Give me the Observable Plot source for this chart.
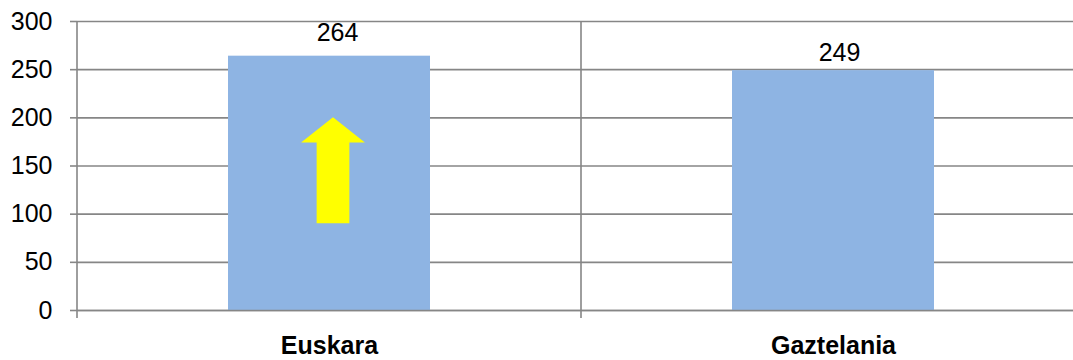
<!DOCTYPE html>
<html>
<head>
<meta charset="utf-8">
<script src="https://cdn.jsdelivr.net/npm/d3@7"></script>
<script src="https://cdn.jsdelivr.net/npm/@observablehq/plot@0.6"></script>
<style>
  html, body { margin: 0; padding: 0; background: #fff; }
  #chart svg { display: block; overflow: hidden; }
  #chart g[aria-label="x-axis tick label"] text { font-weight: bold; }
</style>
</head>
<body>
<div id="chart"></div>
<script>
// ---- data ----
const categories = ["Euskara", "Gaztelania"];
const values = [264, 249];
const yTicks = [0, 50, 100, 150, 200, 250, 300];
// decorative upward arrow in the first bar (data units)
const arrowCategory = "Euskara";
const arrowBottom = 90;
const arrowHeadBase = 174;
const arrowTip = 200;

const data = categories.map((c, i) => ({category: c, value: values[i]}));

const font = "'Liberation Sans', Arial, sans-serif";
const gridColor = "#868686";
const gridWidth = 1.6;

// custom mark: vertical category separators (incl. y-axis line)
function separators(index, scales, values, dims) {
  const x = scales.x, y = scales.y;
  const step = x.step(), bw = x.bandwidth();
  const g = d3.create("svg:g").attr("aria-label", "category separators");
  const edges = [x(categories[0]) - (step - bw) / 2];
  categories.forEach(c => edges.push(x(c) + bw + (step - bw) / 2));
  for (const e of edges) {
    g.append("line")
      .attr("x1", e).attr("x2", e)
      .attr("y1", y(300)).attr("y2", y(0) + 8)
      .attr("stroke", gridColor).attr("stroke-width", gridWidth);
  }
  return g.node();
}

// custom mark: block arrow
function blockArrow(index, scales) {
  const x = scales.x, y = scales.y;
  const bw = x.bandwidth();
  const cx = x(arrowCategory) + bw / 2 + 4;
  const headHalf = bw * 0.158, shaftHalf = bw * 0.081;
  const pts = [
    [cx - shaftHalf, y(arrowBottom)],
    [cx - shaftHalf, y(arrowHeadBase)],
    [cx - headHalf, y(arrowHeadBase)],
    [cx, y(arrowTip)],
    [cx + headHalf, y(arrowHeadBase)],
    [cx + shaftHalf, y(arrowHeadBase)],
    [cx + shaftHalf, y(arrowBottom)]
  ];
  const g = d3.create("svg:g").attr("aria-label", "arrow");
  g.append("polygon").attr("points", pts.map(p => p.join(",")).join(" ")).attr("fill", "#ffff00");
  return g.node();
}

const chart = Plot.plot({
  width: 1073,
  height: 360,
  marginTop: 21,
  marginBottom: 50,
  marginLeft: 77,
  marginRight: 0,
  style: {fontFamily: font, fontSize: "25px", color: "#000", background: "#fff"},
  x: {domain: categories, range: [77, 1085], paddingInner: 0.6, paddingOuter: 0.3, label: null},
  y: {domain: [0, 300], range: [310, 21], ticks: yTicks, label: null},
  marks: [
    Plot.ruleY(yTicks, {stroke: gridColor, strokeWidth: gridWidth}),
    separators,
    Plot.barY(data, {x: "category", y: "value", fill: "#8eb4e3"}),
    blockArrow,
    Plot.ruleY([0], {stroke: gridColor, strokeWidth: gridWidth}),
    Plot.text(data.slice(0, 1), {x: "category", y: "value", text: d => String(d.value), dx: 8, dy: -15, lineAnchor: "bottom", fontSize: 25, fill: "#000"}),
    Plot.text(data.slice(1), {x: "category", y: "value", text: d => String(d.value), dx: 6, dy: -10, lineAnchor: "bottom", fontSize: 25, fill: "#000"}),
    Plot.axisY(yTicks, {tickSize: 7, tickPadding: 18, stroke: gridColor, strokeWidth: gridWidth, fontSize: 25, tickFormat: d => String(d), label: null}),
    Plot.axisX({tickSize: 0, tickPadding: 26, fontSize: 25, fontWeight: "bold", label: null})
  ]
});
document.getElementById("chart").appendChild(chart);
</script>
</body>
</html>
